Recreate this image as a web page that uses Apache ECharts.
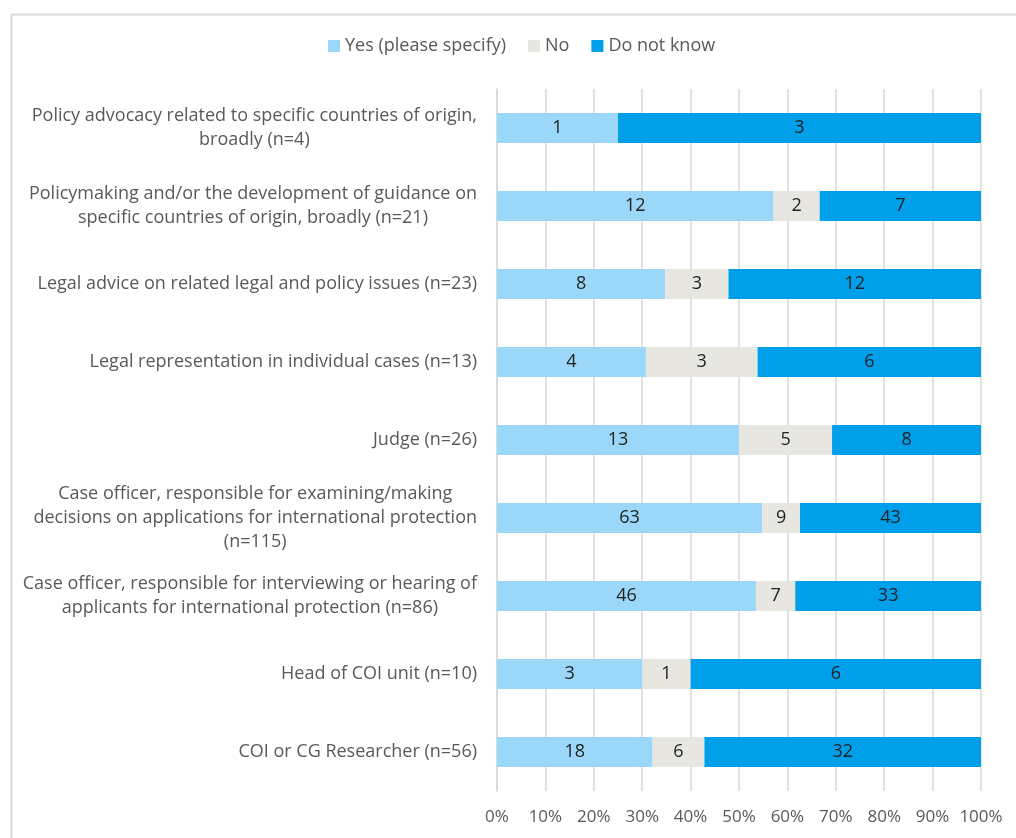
<!DOCTYPE html>
<html>
<head>
<meta charset="utf-8">
<script src="https://cdn.jsdelivr.net/npm/echarts@6/dist/echarts.min.js"></script>
<style>
  html, body { margin: 0; padding: 0; background: #ffffff; }
  #chart { width: 1016px; height: 838px; }
</style>
</head>
<body>
<div id="chart"></div>
<script>
// Respondent roles (top to bottom)
const categories = [
  'Policy advocacy related to specific countries of origin,\nbroadly (n=4)',
  'Policymaking and/or the development of guidance on\nspecific countries of origin, broadly (n=21)',
  'Legal advice on related legal and policy issues (n=23)',
  'Legal representation in individual cases (n=13)',
  'Judge (n=26)',
  'Case officer, responsible for examining/making\ndecisions on applications for international protection\n(n=115)',
  'Case officer, responsible for interviewing or hearing of\napplicants for international protection (n=86)',
  'Head of COI unit (n=10)',
  'COI or CG Researcher (n=56)'
];

// Answer counts per role
const yesCounts = [1, 12, 8, 4, 13, 63, 46, 3, 18];
const noCounts = [0, 2, 3, 3, 5, 9, 7, 1, 6];
const dontKnowCounts = [3, 7, 12, 6, 8, 43, 33, 6, 32];

const seriesNames = ['Yes (please specify)', 'No', 'Do not know'];
const seriesColors = ['#9bd7f8', '#e8e6e1', '#009fe9'];
const tickLabels = ['0%', '10%', '20%', '30%', '40%', '50%', '60%', '70%', '80%', '90%', '100%'];

const FONT = '"Open Sans", Lato, sans-serif';
const countSets = [yesCounts, noCounts, dontKnowCounts];
const totals = categories.map((_, i) => yesCounts[i] + noCounts[i] + dontKnowCounts[i]);

const series = countSets.map((counts, s) => ({
  name: seriesNames[s],
  type: 'bar',
  stack: 'share',
  barWidth: 30,
  itemStyle: { color: seriesColors[s] },
  label: {
    show: true,
    position: 'inside',
    color: '#222222',
    fontFamily: FONT,
    fontSize: 18,
    formatter: p => (counts[p.dataIndex] > 0 ? String(counts[p.dataIndex]) : '')
  },
  emphasis: { disabled: true },
  data: counts.map((c, i) => (c / totals[i]) * 100)
}));

const chart = echarts.init(document.getElementById('chart'), null, { renderer: 'canvas' });
chart.setOption({
  animation: false,
  backgroundColor: '#ffffff',
  graphic: [{
    type: 'rect',
    left: 9, top: 12,
    shape: { width: 1100, height: 900 },
    style: { fill: 'none', stroke: '#d9d9d9', lineWidth: 2 },
    z: -10
  }],
  legend: {
    top: 32,
    left: 323,
    itemWidth: 12,
    itemHeight: 12,
    itemGap: 22,
    icon: 'rect',
    textStyle: { color: '#595959', fontSize: 18, fontFamily: FONT },
    data: seriesNames
  },
  grid: { left: 497, right: 35, top: 89, bottom: 47, containLabel: false },
  xAxis: {
    type: 'value',
    min: 0,
    max: 100,
    interval: 10,
    axisLine: { show: false },
    axisTick: { show: false },
    splitLine: { show: true, lineStyle: { color: '#d9d9d9', width: 1.5 } },
    axisLabel: {
      color: '#595959',
      fontSize: 17,
      fontFamily: FONT,
      margin: 18,
      formatter: v => tickLabels[Math.round(v / 10)]
    }
  },
  yAxis: {
    type: 'category',
    inverse: true,
    data: categories,
    axisLine: { show: true, lineStyle: { color: '#d9d9d9', width: 1.5 } },
    axisTick: { show: false },
    axisLabel: {
      margin: 20,
      align: 'right',
      formatter: v => v.split('\n').map(line => '{c|' + line + '}').join('\n'),
      rich: {
        c: { align: 'center', color: '#595959', fontSize: 18, fontFamily: FONT, lineHeight: 24 }
      }
    }
  },
  series: series
});
</script>
</body>
</html>
